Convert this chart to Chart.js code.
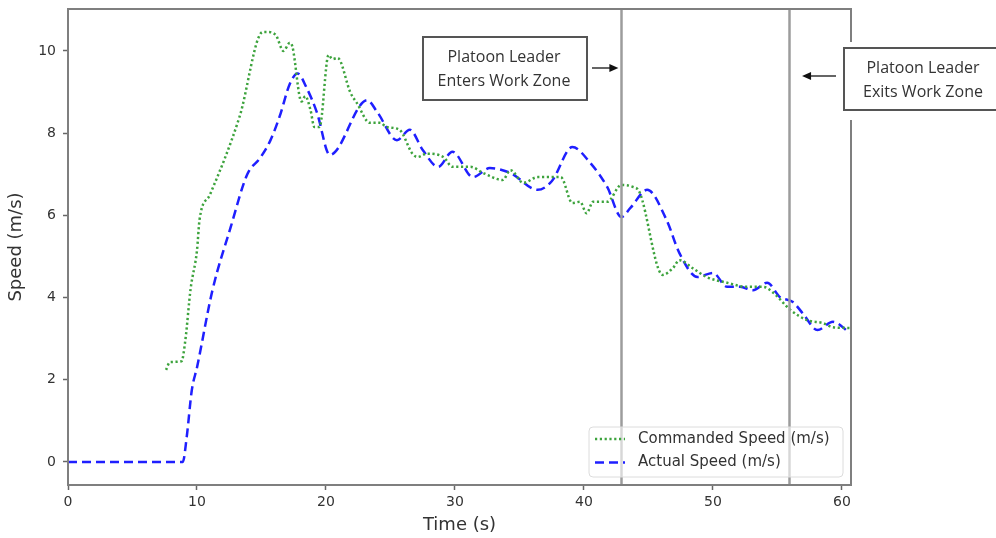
<!DOCTYPE html>
<html>
<head>
<meta charset="utf-8">
<script src="https://cdn.jsdelivr.net/npm/chart.js@4.4.1/dist/chart.umd.min.js"></script>
<style>
  html, body { margin: 0; padding: 0; background: #fff; }
</style>
</head>
<body>
<canvas id="speedChart" width="996" height="538"></canvas>
<script>
// commanded speed (m/s) vs time (s)
const cmdTime = [7.6, 7.9, 8.8, 9.1, 9.5, 10.0, 10.2, 11.0, 13.3, 15.1, 15.4, 16.1, 16.7, 17.2, 17.4,
  18.1, 18.4, 18.8, 19.1, 19.5, 20.2, 20.5, 20.9, 21.9, 22.4, 23.4, 24.2, 24.7, 25.7, 26.7,
  27.1, 27.8, 29.1, 29.8, 31.2, 32.2, 33.7, 34.3, 35.3, 36.4, 38.2, 39.1, 39.7, 40.2, 40.7,
  41.8, 42.9, 43.8, 44.3, 46.1, 46.9, 47.4, 48.4, 49.5, 51.1, 52.6, 53.9, 54.7, 56.0, 57.3,
  58.5, 59.3, 60.6];
const cmdSpeed = [2.24, 2.43, 2.45, 2.97, 4.2, 5.15, 5.9, 6.5, 8.4, 10.46, 10.46, 10.39, 10.0, 10.2, 10.1,
  8.77, 8.9, 8.56, 8.15, 8.15, 9.9, 9.8, 9.83, 8.98, 8.73, 8.25, 8.25, 8.15, 8.08, 7.5,
  7.42, 7.5, 7.42, 7.18, 7.18, 7.03, 6.86, 7.1, 6.79, 6.93, 6.93, 6.3, 6.33, 6.05, 6.33,
  6.33, 6.74, 6.69, 6.57, 4.55, 4.72, 4.91, 4.72, 4.5, 4.36, 4.26, 4.26, 4.11, 3.7, 3.45,
  3.38, 3.28, 3.26];

// actual speed (m/s) vs time (s)
const actTime = [0, 8.9, 9.2, 9.6, 10.0, 11.2, 12.6, 13.9, 14.9, 15.7, 16.4, 17.2, 17.8, 18.5, 19.3,
  20.3, 23.2, 24.0, 25.5, 26.5, 27.5, 28.7, 29.8, 31.4, 32.7, 34.3, 36.4, 37.5, 39.1, 40.5,
  41.8, 42.9, 43.6, 44.9, 46.4, 47.4, 48.8, 50.0, 51.1, 52.1, 53.1, 54.2, 55.2, 56.2, 57.0,
  58.1, 59.3, 60.6];
const actSpeed = [0, 0, 0.6, 1.75, 2.3, 4.18, 5.7, 7.0, 7.4, 7.83, 8.4, 9.2, 9.45, 9.1, 8.5,
  7.47, 8.8, 8.5, 7.83, 8.08, 7.59, 7.18, 7.55, 6.93, 7.15, 7.03, 6.62, 6.83, 7.66, 7.27,
  6.69, 5.96, 6.18, 6.62, 5.89, 5.08, 4.5, 4.6, 4.26, 4.26, 4.18, 4.36, 4.01, 3.89, 3.6,
  3.21, 3.41, 3.14];

const xTicks = [0, 10, 20, 30, 40, 50, 60];
const yTicks = [0, 2, 4, 6, 8, 10];

// work zone entry / exit times (s)
const enterTime = 42.9;
const exitTime = 55.9;

const toPoints = (xs, ys) => xs.map((t, i) => ({ x: t, y: ys[i] }));

const tickFont = { family: "DejaVu Sans", size: 14 };
const titleFont = { family: "DejaVu Sans", size: 18 };

// vertical markers, legend, frame and the two note boxes
const overlay = {
  id: "overlay",
  afterDatasetsDraw(chart) {
    const { ctx, chartArea: a, scales: { x } } = chart;
    ctx.save();

    // work zone lines
    ctx.strokeStyle = "#9c9c9c";
    ctx.lineWidth = 2.5;
    [enterTime, exitTime].forEach(t => {
      const px = Math.round(x.getPixelForValue(t)) + 0.5;
      ctx.beginPath();
      ctx.moveTo(px, a.top);
      ctx.lineTo(px, a.bottom);
      ctx.stroke();
    });

    // legend
    const lw = 254, lh = 50;
    const lx = a.right - 8 - lw, ly = a.bottom - 8 - lh;
    ctx.beginPath();
    ctx.roundRect(lx, ly, lw, lh, 4);
    ctx.fillStyle = "rgba(255,255,255,0.6)";
    ctx.fill();
    ctx.strokeStyle = "#dcdcdc";
    ctx.lineWidth = 1;
    ctx.stroke();
    chart.data.datasets.forEach((ds, i) => {
      const yy = ly + 12 + i * 23.5;
      ctx.beginPath();
      ctx.setLineDash(ds.borderDash);
      ctx.strokeStyle = ds.borderColor;
      ctx.lineWidth = ds.borderWidth;
      ctx.moveTo(lx + 6, yy);
      ctx.lineTo(lx + 36, yy);
      ctx.stroke();
      ctx.setLineDash([]);
      ctx.fillStyle = "#333";
      ctx.font = "15px 'DejaVu Sans'";
      ctx.textBaseline = "middle";
      ctx.textAlign = "left";
      ctx.fillText(ds.label, lx + 49, yy);
    });

    // axes frame, right spine broken by the exit note
    ctx.strokeStyle = "#7f7f7f";
    ctx.lineWidth = 2;
    ctx.beginPath();
    ctx.moveTo(a.right, 42);
    ctx.lineTo(a.right, a.top);
    ctx.lineTo(a.left, a.top);
    ctx.lineTo(a.left, a.bottom);
    ctx.lineTo(a.right, a.bottom);
    ctx.lineTo(a.right, 120);
    ctx.stroke();

    // note boxes
    const note = (bx, by, bw, bh, lines) => {
      ctx.fillStyle = "#fff";
      ctx.fillRect(bx, by, bw, bh);
      ctx.strokeStyle = "#555";
      ctx.lineWidth = 2;
      ctx.strokeRect(bx, by, bw, bh);
      ctx.fillStyle = "#333";
      ctx.font = "16px 'Open Sans'";
      ctx.textAlign = "center";
      ctx.textBaseline = "middle";
      lines.forEach((s, i) => ctx.fillText(s, bx + bw / 2 - 1, by + 20 + i * 24.5));
    };
    const arrow = (x0, x1, y) => {
      const dir = Math.sign(x1 - x0);
      ctx.strokeStyle = "#111";
      ctx.fillStyle = "#111";
      ctx.lineWidth = 1.3;
      ctx.beginPath();
      ctx.moveTo(x0, y);
      ctx.lineTo(x1 - dir * 7, y);
      ctx.stroke();
      ctx.beginPath();
      ctx.moveTo(x1, y);
      ctx.lineTo(x1 - dir * 9, y - 4);
      ctx.lineTo(x1 - dir * 9, y + 4);
      ctx.closePath();
      ctx.fill();
    };
    const enterPx = x.getPixelForValue(enterTime);
    const exitPx = x.getPixelForValue(exitTime);
    note(423, 37, 164, 63, ["Platoon Leader", "Enters Work Zone"]);
    arrow(592, enterPx - 3, 68);
    note(844, 48, 160, 62, ["Platoon Leader", "Exits Work Zone"]);
    arrow(836, exitPx + 13, 76);

    ctx.restore();
  }
};

new Chart(document.getElementById("speedChart"), {
  type: "scatter",
  data: {
    datasets: [
      {
        label: "Commanded Speed (m/s)",
        data: toPoints(cmdTime, cmdSpeed),
        showLine: true,
        borderColor: "#3da33d",
        borderWidth: 2.5,
        borderDash: [2.2, 2.6],
        pointRadius: 0,
        cubicInterpolationMode: "monotone",
      },
      {
        label: "Actual Speed (m/s)",
        data: toPoints(actTime, actSpeed),
        showLine: true,
        borderColor: "#1f1fff",
        borderWidth: 2.5,
        borderDash: [9, 5],
        pointRadius: 0,
        cubicInterpolationMode: "monotone",
      },
    ],
  },
  options: {
    responsive: false,
    animation: false,
    layout: { padding: { left: 0, top: 9, right: 145, bottom: 0 } },
    plugins: {
      legend: { display: false },
      tooltip: { enabled: false },
    },
    scales: {
      x: {
        type: "linear",
        min: 0,
        max: 60.7,
        afterBuildTicks: s => { s.ticks = xTicks.map(v => ({ value: v })); },
        afterFit: s => { s.height = 53; s.paddingLeft = 0; s.paddingRight = 0; },
        border: { display: false },
        grid: { drawOnChartArea: false, tickLength: 5, tickColor: "#666", tickWidth: 1.5 },
        ticks: { font: tickFont, color: "#333", padding: 4, maxRotation: 0 },
        title: { display: true, text: "Time (s)", font: titleFont, color: "#333", padding: { top: 0, bottom: 2 } },
      },
      y: {
        min: -0.56,
        max: 11.02,
        afterBuildTicks: s => { s.ticks = yTicks.map(v => ({ value: v })); },
        afterFit: s => { s.width = 68; s.paddingTop = 0; s.paddingBottom = 0; },
        border: { display: false },
        grid: { drawOnChartArea: false, tickLength: 5, tickColor: "#666", tickWidth: 1.5 },
        ticks: { font: tickFont, color: "#333", padding: 7 },
        title: { display: true, text: "Speed (m/s)", font: titleFont, color: "#333", padding: { top: 6, bottom: 0 } },
      },
    },
  },
  plugins: [overlay],
});
</script>
</body>
</html>
